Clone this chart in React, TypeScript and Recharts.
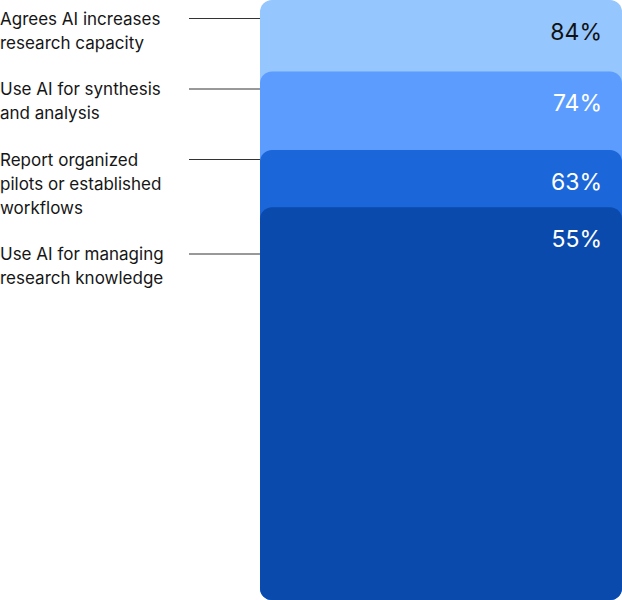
import { BarChart, Bar, XAxis, YAxis, LabelList } from "recharts"

// each statement, its value and its bar colour
const statements = [
  ["Agrees AI increases", "research capacity"],
  ["Use AI for synthesis", "and analysis"],
  ["Report organized", "pilots or established", "workflows"],
  ["Use AI for managing", "research knowledge"],
]
const keys = ["capacity", "synthesis", "pilots", "knowledge"]
const values = [84, 74, 63, 55]
const colors = ["#95C6FE", "#5B9CFE", "#1B67DA", "#0A4AAD"]
const labelColors = ["#111111", "#ffffff", "#ffffff", "#ffffff"]

const data = [
  keys.reduce((row: Record<string, any>, k, i) => {
    row[k] = values[i]
    return row
  }, { name: "all" }),
]

const FONT = "Inter, 'Noto Sans', sans-serif"
const LINE_H = 24
const BLOCK_GAP = 22.5
const FIRST_Y = 18.5

// vertical centre of the first line of each text block on the left
const blockY = statements.map((_, i) =>
  statements.slice(0, i).reduce((acc, s) => acc + s.length * LINE_H + BLOCK_GAP, FIRST_Y)
)

const makeLabel = (i: number) => (props: any) => {
  const { x, y, width, value } = props
  const ty = blockY[i]
  return (
    <g>
      <line x1={189} x2={x} y1={ty} y2={ty} stroke="#333" strokeWidth={1} />
      <text x={0} y={ty} fontFamily={FONT} fontSize={17} fill="#161616" dominantBaseline="central">
        {statements[i].map((ln, j) => (
          <tspan key={j} x={0} dy={j === 0 ? 0 : LINE_H}>{ln}</tspan>
        ))}
      </text>
      <text
        x={x + width - 20}
        y={y + 32}
        textAnchor="end"
        dominantBaseline="central"
        fontFamily={FONT}
        fontSize={23}
        fill={labelColors[i]}
      >
        {`${value}%`}
      </text>
    </g>
  )
}

export default function App() {
  return (
    <div style={{ position: "absolute", top: 0, left: 0, background: "#fff" }}>
      <BarChart
        width={622}
        height={600}
        data={data}
        margin={{ top: 0, right: 0, bottom: 0, left: 260 }}
        barCategoryGap={0}
        barGap={0}
      >
        {keys.map((k, i) => (
          <XAxis key={`x-${k}`} xAxisId={i} dataKey="name" hide />
        ))}
        <YAxis hide domain={[0, 84]} />
        {keys.map((k, i) => (
          <Bar
            key={k}
            xAxisId={i}
            dataKey={k}
            fill={colors[i]}
            radius={12}
            isAnimationActive={false}
          >
            <LabelList dataKey={k} content={makeLabel(i)} />
          </Bar>
        ))}
      </BarChart>
    </div>
  )
}
